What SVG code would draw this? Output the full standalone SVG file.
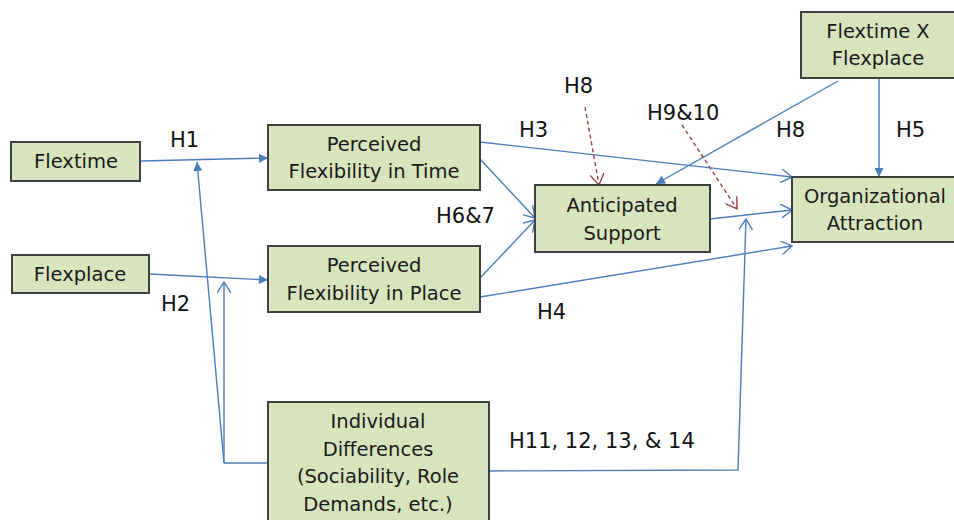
<svg xmlns="http://www.w3.org/2000/svg" width="954" height="520" viewBox="0 0 954 520">
<style>
.box{fill:#D7E4BD;stroke:#404040;stroke-width:2}
.t{font-family:"DejaVu Sans",sans-serif;font-size:19.5px;fill:#1a1a1a;text-anchor:middle}
.lbl{font-family:"DejaVu Sans",sans-serif;font-size:21px;fill:#111}
.c{fill:none;stroke:#4A7EBB;stroke-width:1.4}
.cf{marker-end:url(#af)}
.co{marker-end:url(#ao)}
.d{fill:none;stroke:#9B4545;stroke-width:1.4;stroke-dasharray:4 3;marker-end:url(#ad)}
</style>
<defs>
<marker id="af" viewBox="0 0 10 10" refX="10" refY="5" markerWidth="10" markerHeight="9" markerUnits="userSpaceOnUse" orient="auto"><path d="M0,0 L10,5 L0,10 Z" fill="#4A7EBB"/></marker>
<marker id="ao" viewBox="0 0 12 14" refX="11" refY="7" markerWidth="12" markerHeight="14" markerUnits="userSpaceOnUse" orient="auto"><path d="M0,0 L11,7 L0,14" fill="none" stroke="#4A7EBB" stroke-width="1.4"/></marker>
<marker id="ad" viewBox="0 0 12 14" refX="11" refY="7" markerWidth="12" markerHeight="14" markerUnits="userSpaceOnUse" orient="auto"><path d="M0,0 L11,7 L0,14" fill="none" stroke="#9B4545" stroke-width="1.4"/></marker>
</defs>
<rect width="954" height="520" fill="#fff"/>
<g id="connectors">
<path class="c cf" d="M140,161 L268,158"/>
<path class="c cf" d="M149,274 L268,280"/>
<path class="c" d="M268,463 L224,463"/>
<path class="c co" d="M224,463 L224,282"/>
<path class="c cf" d="M224,463 L197,162"/>
<path class="c co" d="M480,142 L792,177"/>
<path class="c co" d="M480,159 L535,218"/>
<path class="c co" d="M480,278 L535,220"/>
<path class="c co" d="M480,297 L792,246"/>
<path class="c co" d="M710,219 L792,210"/>
<path class="c cf" d="M838,81 L656,184"/>
<path class="c cf" d="M879,78 L879,177"/>
<path class="c co" d="M489,471 L738,470 L746,219"/>
<path class="d" d="M585,107 L599,185"/>
<path class="d" d="M682,125 L737,209"/>
</g>
<g id="flextime"><rect class="box" x="11" y="142" width="129" height="39"/><text class="t" x="76" y="168">Flextime</text></g>
<g id="flexplace"><rect class="box" x="12" y="255" width="137" height="38"/><text class="t" x="80" y="281">Flexplace</text></g>
<g id="pft"><rect class="box" x="268" y="125" width="212" height="65"/><text class="t" x="374" y="151">Perceived</text><text class="t" x="374" y="178">Flexibility in Time</text></g>
<g id="pfp"><rect class="box" x="268" y="246" width="212" height="66"/><text class="t" x="374" y="272">Perceived</text><text class="t" x="374" y="300">Flexibility in Place</text></g>
<g id="as"><rect class="box" x="535" y="185" width="175" height="67"/><text class="t" x="622" y="212">Anticipated</text><text class="t" x="622" y="240">Support</text></g>
<g id="fxf"><rect class="box" x="801" y="12" width="160" height="66"/><text class="t" x="878" y="38">Flextime X</text><text class="t" x="878" y="65">Flexplace</text></g>
<g id="org"><rect class="box" x="792" y="177" width="170" height="65"/><text class="t" x="875" y="203">Organizational</text><text class="t" x="875" y="230">Attraction</text></g>
<g id="id"><rect class="box" x="268" y="402" width="221" height="130"/><text class="t" x="378" y="428">Individual</text><text class="t" x="378" y="456">Differences</text><text class="t" x="378" y="483">(Sociability, Role</text><text class="t" x="378" y="511">Demands, etc.)</text></g>
<g id="labels">
<text class="lbl" x="170" y="147">H1</text>
<text class="lbl" x="161" y="311">H2</text>
<text class="lbl" x="519" y="137">H3</text>
<text class="lbl" x="537" y="319">H4</text>
<text class="lbl" x="436" y="223">H6&amp;7</text>
<text class="lbl" x="564" y="93">H8</text>
<text class="lbl" x="647" y="120">H9&amp;10</text>
<text class="lbl" x="776" y="137">H8</text>
<text class="lbl" x="896" y="137">H5</text>
<text class="lbl" x="509" y="448">H11, 12, 13, &amp; 14</text>
</g>
</svg>
